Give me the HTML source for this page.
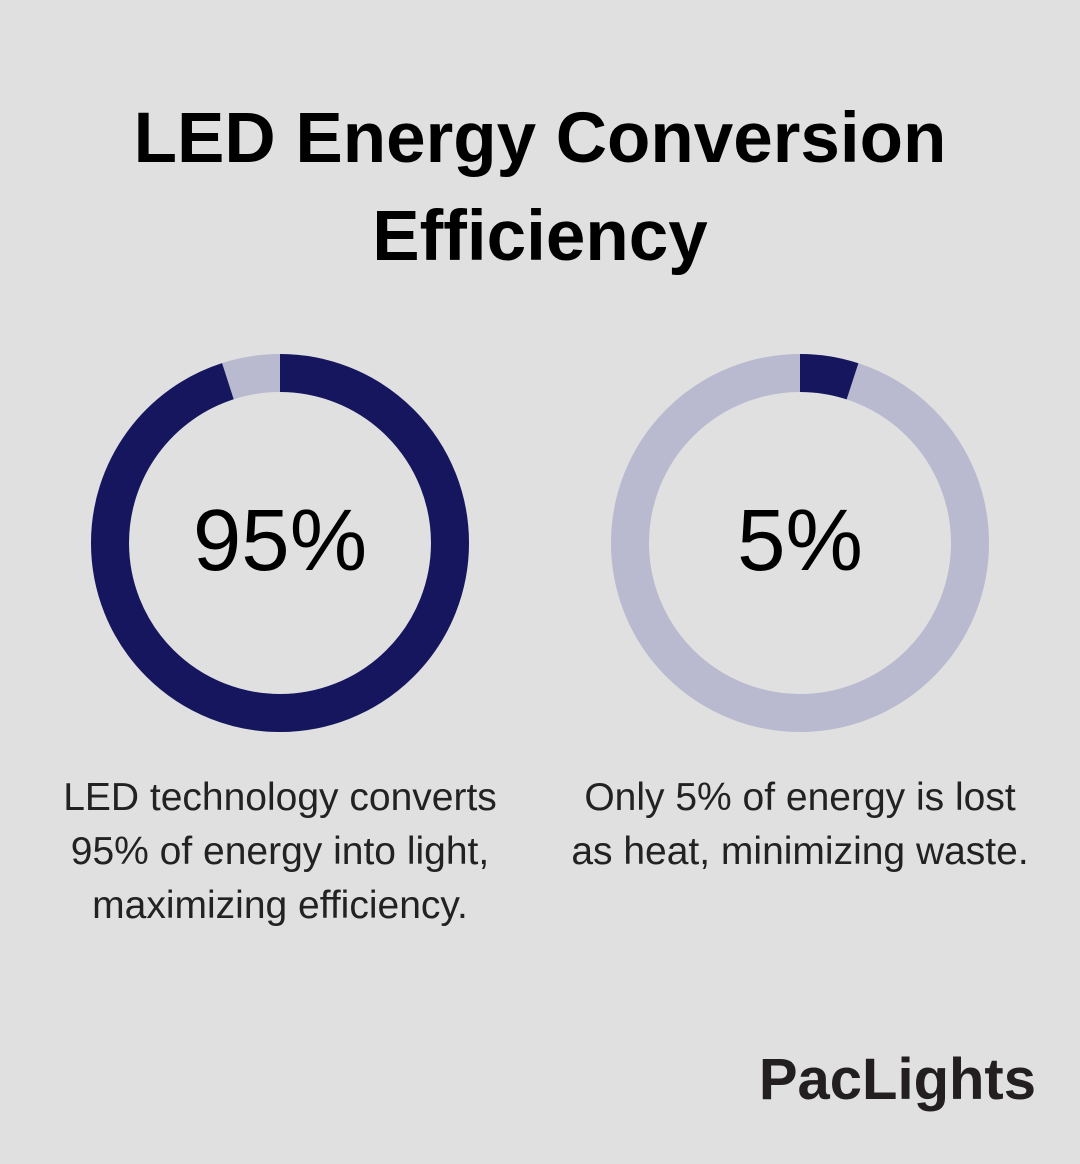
<!DOCTYPE html>
<html><head><meta charset="utf-8"><style>
html,body{margin:0;padding:0;}
body{width:1080px;height:1164px;background:#dfe0df;position:relative;overflow:hidden;font-family:"Liberation Sans",sans-serif;}
.t{position:absolute;left:0;width:1080px;text-align:center;font-weight:bold;font-size:71px;color:#000;line-height:98px;top:90px;}
.d{position:absolute;width:520px;text-align:center;font-size:39px;color:#222;line-height:54px;top:771px;}
.logo{position:absolute;right:44px;top:1046px;font-size:58px;color:#231f20;font-weight:bold;letter-spacing:0px;}
</style></head><body>
<div class="t">LED Energy Conversion<br>Efficiency</div>
<svg width="1080" height="1164" style="position:absolute;left:0;top:0">
<g transform="rotate(-90 280 543)">
<circle cx="280" cy="543" r="170" fill="none" stroke="#b9b9cf" stroke-width="38"/>
<circle cx="280" cy="543" r="170" fill="none" stroke="#16165e" stroke-width="38" stroke-dasharray="1014.7 1068.1"/>
</g>
<g transform="rotate(-90 800 543)">
<circle cx="800" cy="543" r="170" fill="none" stroke="#b9b9cf" stroke-width="38"/>
<circle cx="800" cy="543" r="170" fill="none" stroke="#16165e" stroke-width="38" stroke-dasharray="53.4 1068.1"/>
</g>
<text x="280" y="570" text-anchor="middle" font-family="Liberation Sans, sans-serif" font-size="87" fill="#000">95%</text>
<text x="800" y="570" text-anchor="middle" font-family="Liberation Sans, sans-serif" font-size="87" fill="#000">5%</text>
</svg>
<div class="d" style="left:20px">LED technology converts<br>95% of energy into light,<br>maximizing efficiency.</div>
<div class="d" style="left:540px">Only 5% of energy is lost<br>as heat, minimizing waste.</div>
<div class="logo">PacLights</div>
</body></html>
